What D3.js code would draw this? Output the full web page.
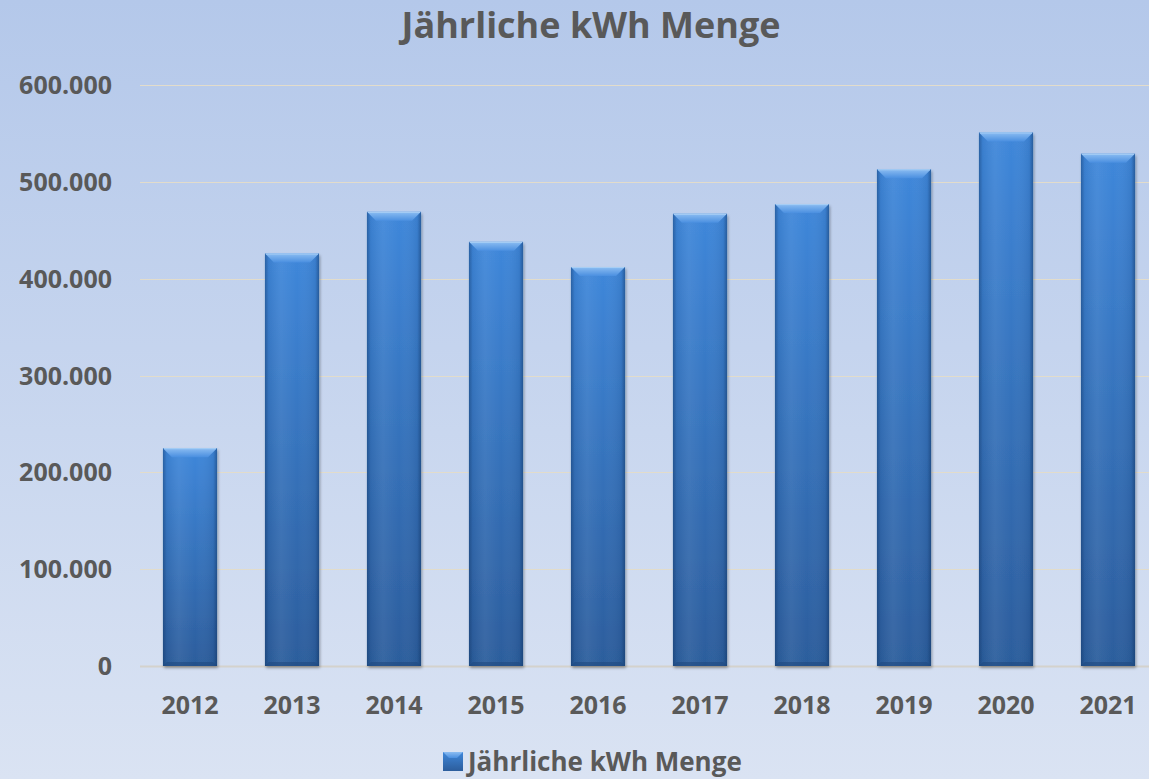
<!DOCTYPE html>
<html>
<head>
<meta charset="utf-8">
<script src="https://cdn.jsdelivr.net/npm/d3@7"></script>
<style>
  html, body { margin: 0; padding: 0; overflow: hidden; }
  text { font-family: "Open Sans", "DejaVu Sans", sans-serif; font-weight: bold; fill: #595959; }
</style>
</head>
<body>
<script>
/* DATA */
var chartTitle = 'Jährliche kWh Menge';
var years = ['2012', '2013', '2014', '2015', '2016', '2017', '2018', '2019', '2020', '2021'];
var kwhValues = [225000, 426000, 469000, 438000, 412000, 467000, 477000, 513000, 551000, 529000];
var yTicks = [0, 100000, 200000, 300000, 400000, 500000, 600000];

/* SIZES */
var width = 1149;
var height = 779;
var bevel = 9;

var de = d3.formatLocale({decimal: ',', thousands: '.', grouping: [3], currency: ['', ' €']});
var fmt = de.format(',.0f');

var x = d3.scaleBand()
    .domain(years)
    .range([139, 1159])
    .paddingInner(0.47)
    .paddingOuter(0.235);

var y = d3.scaleLinear()
    .domain([0, 600000])
    .range([666, 85]);

var svg = d3.select('body').append('svg')
    .attr('width', width)
    .attr('height', height);

var defs = svg.append('defs');

// background gradient
var bg = defs.append('linearGradient').attr('id', 'bgGrad')
    .attr('x1', 0).attr('y1', 0).attr('x2', 0).attr('y2', 1);
bg.append('stop').attr('offset', '0%').attr('stop-color', '#b4c8ea');
bg.append('stop').attr('offset', '100%').attr('stop-color', '#dae3f3');

// bar body: vertical light -> dark
var barV = defs.append('linearGradient').attr('id', 'barV')
    .attr('x1', 0).attr('y1', 0).attr('x2', 0).attr('y2', 1);
barV.append('stop').attr('offset', '0%').attr('stop-color', '#3f87da');
barV.append('stop').attr('offset', '100%').attr('stop-color', '#2c5d9c');

// horizontal shading across the bar
var barH = defs.append('linearGradient').attr('id', 'barH')
    .attr('x1', 0).attr('y1', 0).attr('x2', 1).attr('y2', 0);
barH.append('stop').attr('offset', '0%').attr('stop-color', '#0b2a55').attr('stop-opacity', 0.4);
barH.append('stop').attr('offset', '7%').attr('stop-color', '#0b2a55').attr('stop-opacity', 0.08);
barH.append('stop').attr('offset', '30%').attr('stop-color', '#ffffff').attr('stop-opacity', 0.06);
barH.append('stop').attr('offset', '60%').attr('stop-color', '#ffffff').attr('stop-opacity', 0);
barH.append('stop').attr('offset', '93%').attr('stop-color', '#0b2a55').attr('stop-opacity', 0.1);
barH.append('stop').attr('offset', '100%').attr('stop-color', '#0b2a55').attr('stop-opacity', 0.45);

// top bevel highlight
var topG = defs.append('linearGradient').attr('id', 'topG')
    .attr('x1', 0).attr('y1', 0).attr('x2', 0).attr('y2', 1);
topG.append('stop').attr('offset', '0%').attr('stop-color', '#8cbdf2');
topG.append('stop').attr('offset', '100%').attr('stop-color', '#4a8fe0');

var shadow = defs.append('filter').attr('id', 'shadow')
    .attr('x', '-20%').attr('y', '-5%').attr('width', '140%').attr('height', '110%');
shadow.append('feDropShadow').attr('dx', 1).attr('dy', 2).attr('stdDeviation', 1.5)
    .attr('flood-color', '#000').attr('flood-opacity', 0.35);

svg.append('rect')
    .attr('width', width).attr('height', height)
    .attr('fill', 'url(#bgGrad)');

// title
svg.append('text')
    .attr('x', 591).attr('y', 38)
    .attr('text-anchor', 'middle')
    .style('font-size', '36px')
    .text(chartTitle);

// gridlines
svg.append('g').selectAll('line')
    .data(yTicks)
    .join('line')
    .attr('x1', 140).attr('x2', width)
    .attr('y1', d => Math.round(y(d)) + 0.5)
    .attr('y2', d => Math.round(y(d)) + 0.5)
    .attr('stroke', d => d === 0 ? '#d4d2cc' : '#e2dccb')
    .attr('stroke-width', d => d === 0 ? 2 : 1.2);

// y axis labels
svg.append('g').selectAll('text')
    .data(yTicks)
    .join('text')
    .attr('x', 112)
    .attr('y', d => y(d))
    .attr('dy', '0.36em')
    .attr('text-anchor', 'end')
    .style('font-size', '25px')
    .text(d => fmt(d));

// bars
var bars = svg.append('g').selectAll('g')
    .data(years.map((yr, i) => ({year: yr, value: kwhValues[i]})))
    .join('g')
    .attr('transform', d => `translate(${x(d.year)},${y(d.value)})`);

var bw = x.bandwidth();

bars.append('rect')
    .attr('width', bw)
    .attr('height', d => y(0) - y(d.value))
    .attr('fill', 'url(#barV)')
    .attr('filter', 'url(#shadow)');

bars.append('rect')
    .attr('width', bw)
    .attr('height', d => y(0) - y(d.value))
    .attr('fill', 'url(#barH)');

// top bevel
bars.append('path')
    .attr('d', `M0,0 L${bw},0 L${bw - bevel},${bevel} L${bevel},${bevel} Z`)
    .attr('fill', 'url(#topG)');

// thin light edge on top
bars.append('line')
    .attr('x1', 1).attr('x2', bw - 1)
    .attr('y1', 0.5).attr('y2', 0.5)
    .attr('stroke', '#a9cff5').attr('stroke-width', 1);

// bottom bevel (darker)
bars.append('path')
    .attr('d', d => {
        var h = y(0) - y(d.value);
        return `M0,${h} L${bw},${h} L${bw - 4},${h - 4} L4,${h - 4} Z`;
    })
    .attr('fill', '#1f4a80').attr('opacity', 0.6);

// x axis labels
svg.append('g').selectAll('text')
    .data(years)
    .join('text')
    .attr('x', d => x(d) + bw / 2)
    .attr('y', 714)
    .attr('text-anchor', 'middle')
    .style('font-size', '25px')
    .text(d => d);

// legend (kept a few px higher so the descenders stay inside the frame)
var legend = svg.append('g').attr('transform', 'translate(443,752)');
legend.append('rect')
    .attr('width', 20).attr('height', 19)
    .attr('fill', 'url(#barV)');
legend.append('path')
    .attr('d', 'M0,0 L20,0 L14,6 L6,6 Z')
    .attr('fill', 'url(#topG)');
legend.append('text')
    .attr('x', 25).attr('y', 19)
    .style('font-size', '26px')
    .text(chartTitle);
</script>
</body>
</html>
